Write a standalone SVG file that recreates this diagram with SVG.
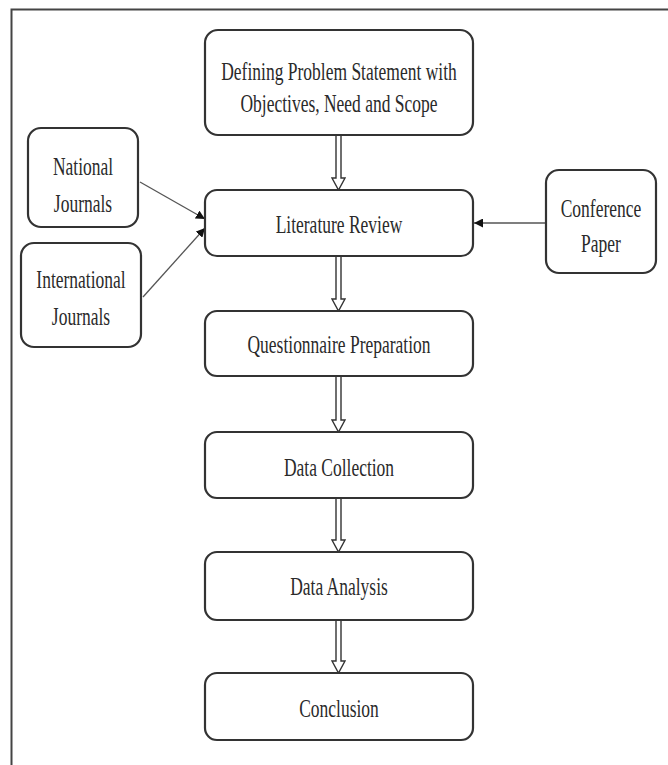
<svg xmlns="http://www.w3.org/2000/svg" width="668" height="765" viewBox="0 0 668 765">
<style>
  .box { fill: #ffffff; stroke: #333333; stroke-width: 2.2; }
  .t { font-family: "Liberation Serif", "Times New Roman", serif; font-size: 25px; fill: #2a2a2a; text-anchor: middle; }
  .dbl { fill: #ffffff; stroke: #333333; stroke-width: 1.4; stroke-linejoin: miter; }
  .thin { fill: none; stroke: #555555; stroke-width: 1.3; }
</style>
<defs>
  <marker id="ah" viewBox="0 0 10 10" refX="10" refY="5" markerWidth="9" markerHeight="9" markerUnits="userSpaceOnUse" orient="auto">
    <path d="M0,0 L10,5 L0,10 Z" fill="#111111"/>
  </marker>
</defs>
<rect width="668" height="765" fill="#ffffff"/>
<path d="M11.5,765 V9.5 H668" fill="none" stroke="#444444" stroke-width="2"/>

<g id="connectors">
  <path class="dbl" d="M336,135 V178 H332 L338.5,190 L345,178 H341 V135"/>
  <path class="dbl" d="M336,256 V299 H332 L338.5,311 L345,299 H341 V256"/>
  <path class="dbl" d="M336,376 V420 H332 L338.5,432 L345,420 H341 V376"/>
  <path class="dbl" d="M336,498 V540 H332 L338.5,552 L345,540 H341 V498"/>
  <path class="dbl" d="M336,620 V661 H332 L338.5,673 L345,661 H341 V620"/>
  <line class="thin" x1="140" y1="182" x2="205" y2="219" marker-end="url(#ah)"/>
  <line class="thin" x1="143" y1="297" x2="205" y2="228" marker-end="url(#ah)"/>
  <line class="thin" x1="547" y1="223" x2="474" y2="223" marker-end="url(#ah)"/>
</g>

<g id="problem">
  <rect class="box" x="205" y="30" width="268" height="105" rx="13"/>
  <text class="t" transform="translate(339,80) scale(0.7,1)">Defining Problem Statement with</text>
  <text class="t" transform="translate(339,112) scale(0.7,1)">Objectives, Need and Scope</text>
</g>
<g id="literature">
  <rect class="box" x="205" y="190" width="268" height="66" rx="12"/>
  <text class="t" transform="translate(339,233) scale(0.7,1)">Literature Review</text>
</g>
<g id="questionnaire">
  <rect class="box" x="205" y="311" width="268" height="65" rx="12"/>
  <text class="t" transform="translate(339,353) scale(0.7,1)">Questionnaire Preparation</text>
</g>
<g id="collection">
  <rect class="box" x="205" y="432" width="268" height="66" rx="12"/>
  <text class="t" transform="translate(339,476) scale(0.7,1)">Data Collection</text>
</g>
<g id="analysis">
  <rect class="box" x="205" y="552" width="268" height="68" rx="12"/>
  <text class="t" transform="translate(339,595) scale(0.7,1)">Data Analysis</text>
</g>
<g id="conclusion">
  <rect class="box" x="205" y="673" width="268" height="67" rx="12"/>
  <text class="t" transform="translate(339,717) scale(0.7,1)">Conclusion</text>
</g>
<g id="national">
  <rect class="box" x="28" y="128" width="110" height="99" rx="13"/>
  <text class="t" transform="translate(83,175) scale(0.7,1)">National</text>
  <text class="t" transform="translate(83,212) scale(0.7,1)">Journals</text>
</g>
<g id="international">
  <rect class="box" x="21" y="243" width="120" height="104" rx="13"/>
  <text class="t" transform="translate(81,288) scale(0.7,1)">International</text>
  <text class="t" transform="translate(81,325) scale(0.7,1)">Journals</text>
</g>
<g id="conference">
  <rect class="box" x="546" y="170" width="110" height="103" rx="13"/>
  <text class="t" transform="translate(601,217) scale(0.7,1)">Conference</text>
  <text class="t" transform="translate(601,252) scale(0.7,1)">Paper</text>
</g>
</svg>
